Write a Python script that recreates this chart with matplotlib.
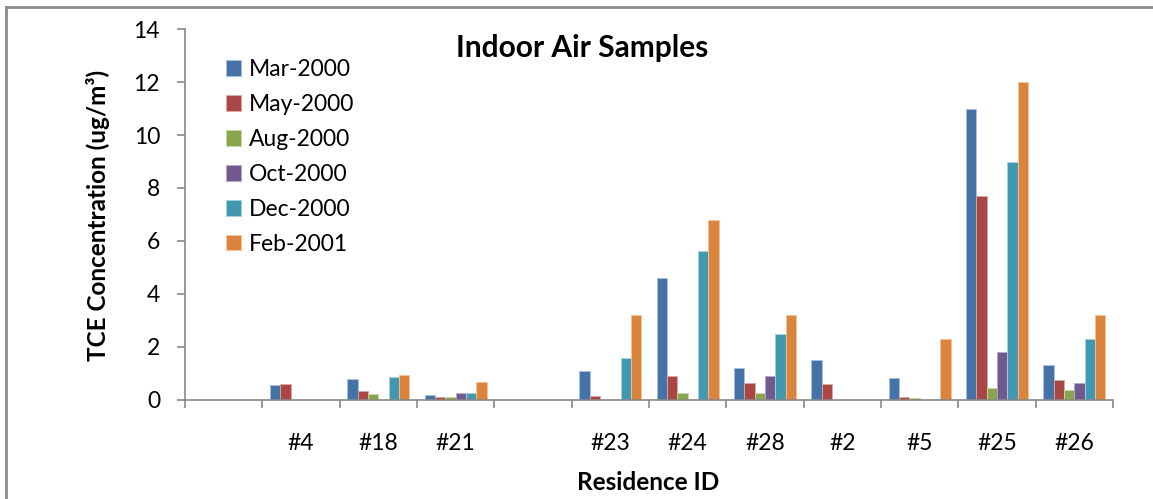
import matplotlib
matplotlib.use("Agg")
import matplotlib.pyplot as plt
import numpy as np
from matplotlib.lines import Line2D

plt.rcParams['font.family'] = ['Lato', 'DejaVu Sans']

residences = ["", "#4", "#18", "#21", "", "#23", "#24", "#28", "#2", "#5", "#25", "#26"]
series_names = ["Mar-2000", "May-2000", "Aug-2000", "Oct-2000", "Dec-2000", "Feb-2001"]
mar_2000 = [0, 0.54, 0.78, 0.16, 0, 1.09, 4.6, 1.18, 1.48, 0.83, 11.0, 1.3]
may_2000 = [0, 0.58, 0.33, 0.11, 0, 0.14, 0.89, 0.62, 0.6, 0.09, 7.68, 0.72]
aug_2000 = [0, 0, 0.19, 0.09, 0, 0, 0.24, 0.24, 0, 0.05, 0.45, 0.35]
oct_2000 = [0, 0, 0, 0.23, 0, 0, 0, 0.89, 0, 0, 1.79, 0.63]
dec_2000 = [0, 0, 0.84, 0.26, 0, 1.58, 5.6, 2.49, 0, 0, 9.0, 2.28]
feb_2001 = [0, 0, 0.94, 0.68, 0, 3.18, 6.8, 3.18, 0, 2.28, 12.0, 3.18]
series = [mar_2000, may_2000, aug_2000, oct_2000, dec_2000, feb_2001]
colors = ["#4572A7", "#AA4643", "#89A54E", "#71588F", "#4198AF", "#DB843D"]
edge_colors = ["#A9C1DF", "#DDA9A7", "#C7D9A5", "#B6A6CB", "#A3D3E0", "#F5C39B"]

W, H = 1153, 499
fig = plt.figure(figsize=(W / 100, H / 100), dpi=100)
ax = fig.add_axes([185 / W, (H - 399.5) / H, 928 / W, 370.2 / H])

n = len(residences)
x = np.arange(n)
bw = 0.8 / len(series)
for i, (vals, c, ec, name) in enumerate(zip(series, colors, edge_colors, series_names)):
    pos = x - 0.4 + bw * (i + 0.5)
    ax.bar(pos, vals, width=bw, color=c, edgecolor=ec, linewidth=0.6, label=name)

ax.set_xlim(-0.5, n - 0.5)
ax.set_ylim(0, 14)
ax.set_yticks(np.arange(0, 15, 2))
ax.set_xticks(np.arange(-0.5, n, 1.0))
ax.set_xticklabels([])
ax.set_xticks(x, minor=True)
ax.set_xticklabels(residences, minor=True)
ax.tick_params(axis='x', which='major', length=6, width=1.2, color='#878787', direction='out')
ax.tick_params(axis='x', which='minor', length=0, pad=24, labelsize=16.5)
ax.tick_params(axis='y', length=6, width=1.2, color='#878787', pad=12, labelsize=16.5)

for s in ['top', 'right']:
    ax.spines[s].set_visible(False)
for s in ['left', 'bottom']:
    ax.spines[s].set_color('#878787')
    ax.spines[s].set_linewidth(1.2)

fig.text(98 / W, 1 - 215 / H, "TCE Concentration (ug/m³)", rotation=90,
         ha='center', va='center', fontsize=17.5, fontweight='bold')
fig.text(648 / W, 1 - 483 / H, "Residence ID", ha='center', va='center',
         fontsize=17.5, fontweight='bold')
fig.text(582 / W, 1 - 48 / H, "Indoor Air Samples", ha='center', va='center',
         fontsize=21.5, fontweight='bold')

leg = ax.legend(loc='upper left', bbox_to_anchor=(226 / W, 1 - 59 / H),
                bbox_transform=fig.transFigure, frameon=False, fontsize=16.5,
                handlelength=0.65, handleheight=0.65, handletextpad=0.35,
                labelspacing=0.61, borderpad=0, borderaxespad=0)

# outer chart border (top and left)
fig.add_artist(Line2D([6 / W, 1], [1 - 7 / H, 1 - 7 / H], transform=fig.transFigure,
                      color='#8c8c8c', linewidth=2))
fig.add_artist(Line2D([6 / W, 6 / W], [0, 1 - 7 / H], transform=fig.transFigure,
                      color='#8c8c8c', linewidth=2))

fig.savefig("out.png", dpi=100)
